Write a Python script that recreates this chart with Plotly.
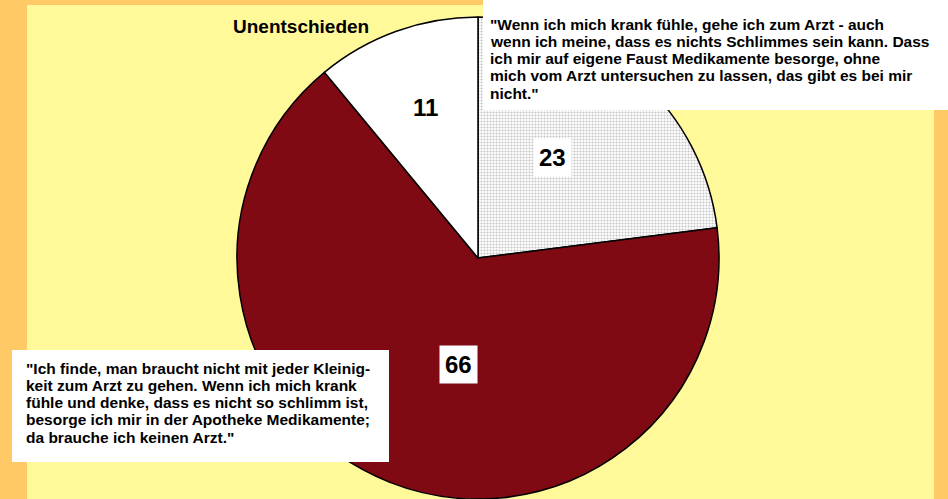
import math
import plotly.graph_objects as go

# ---- data ----
categories = ["Arzt auch bei Kleinigkeiten", "Apotheke statt Arzt", "Unentschieden"]
values = [23, 66, 11]
slice_colors = ["#FFFFFF", "#800A14", "#FFFFFF"]

quote_top = [
    "\"Wenn ich mich krank fühle, gehe ich zum Arzt - auch",
    "wenn ich meine, dass es nichts Schlimmes sein kann. Dass",
    "ich mir auf eigene Faust Medikamente besorge, ohne",
    "mich vom Arzt untersuchen zu lassen, das gibt es bei mir",
    "nicht.\"",
]
quote_bottom = [
    "\"Ich finde, man braucht nicht mit jeder Kleinig-",
    "keit zum Arzt zu gehen. Wenn ich mich krank",
    "fühle und denke, dass es nicht so schlimm ist,",
    "besorge ich mir in der Apotheke Medikamente;",
    "da brauche ich keinen Arzt.\"",
]
undecided_label = "Unentschieden"

# label placement style: radial fraction and angular nudge (degrees)
label_radius = [0.52, 0.45, 0.66]
label_nudge = [-4.8, -11.0, 0.5]

W, H = 948, 499
FONT = "Liberation Sans, Arial, sans-serif"
QFONT = 15.5
QSTEP = 17.3

CX, CY_TOP, R = 478, 258, 241  # pie centre (px from left/top) and radius

fig = go.Figure()
fig.add_trace(go.Pie(
    labels=categories,
    values=values,
    sort=False,
    direction="clockwise",
    rotation=0,
    marker=dict(
        colors=slice_colors,
        line=dict(color="#000000", width=1.5),
        pattern=dict(shape=[".", "", ""], fgcolor="#8c8c8c", bgcolor="#FFFFFF",
                     size=3, solidity=0.4, fillmode="overlay"),
    ),
    textinfo="none",
    hoverinfo="label+value",
    showlegend=False,
    domain=dict(x=[(CX - R) / W, (CX + R) / W], y=[0, 1 - (CY_TOP - R) / H]),
))

def px(x):
    return x / W

def py(y):
    return 1 - y / H

shapes = [
    dict(type="rect", xref="paper", yref="paper", x0=px(27), x1=px(934), y0=0, y1=py(5),
         fillcolor="#FFF99A", line=dict(width=0), layer="below"),
    dict(type="rect", xref="paper", yref="paper", x0=px(483), x1=1, y0=py(110), y1=1,
         fillcolor="#FFFFFF", line=dict(width=0), layer="above"),
    dict(type="rect", xref="paper", yref="paper", x0=px(12), x1=px(389), y0=py(462), y1=py(350),
         fillcolor="#FFFFFF", line=dict(width=0), layer="above"),
]

annotations = []
# value labels, placed from the cumulative share of each slice
total = sum(values)
cum = 0
for v, frac, nudge in zip(values, label_radius, label_nudge):
    mid = (cum + v / 2) / total * 360 + nudge
    cum += v
    lx = CX + frac * R * math.sin(math.radians(mid))
    ly = CY_TOP - frac * R * math.cos(math.radians(mid))
    annotations.append(dict(text=f"<b>{v}</b>", xref="paper", yref="paper",
                            x=px(lx), y=py(ly), xanchor="center", yanchor="middle",
                            showarrow=False, bgcolor="#FFFFFF", borderpad=5,
                            font=dict(family=FONT, size=24, color="#000000")))

for i, line in enumerate(quote_top):
    annotations.append(dict(text=f"<b>{line}</b>", xref="paper", yref="paper",
                            x=px(488), y=py(24 + QSTEP * i), xanchor="left", yanchor="middle",
                            showarrow=False, font=dict(family=FONT, size=QFONT, color="#000000")))
for i, line in enumerate(quote_bottom):
    annotations.append(dict(text=f"<b>{line}</b>", xref="paper", yref="paper",
                            x=px(24), y=py(368 + QSTEP * i), xanchor="left", yanchor="middle",
                            showarrow=False, font=dict(family=FONT, size=QFONT, color="#000000")))
annotations.append(dict(text=f"<b>{undecided_label}</b>", xref="paper", yref="paper",
                        x=px(300.5), y=py(27), xanchor="center", yanchor="middle",
                        showarrow=False, font=dict(family=FONT, size=19, color="#000000")))

fig.update_layout(
    width=W, height=H,
    margin=dict(l=0, r=0, t=0, b=0),
    paper_bgcolor="#FFC966",
    plot_bgcolor="#FFF99A",
    shapes=shapes,
    annotations=annotations,
)

fig.write_html("out.html", config={"displayModeBar": False},
               post_script="document.body.style.margin='0px';")
